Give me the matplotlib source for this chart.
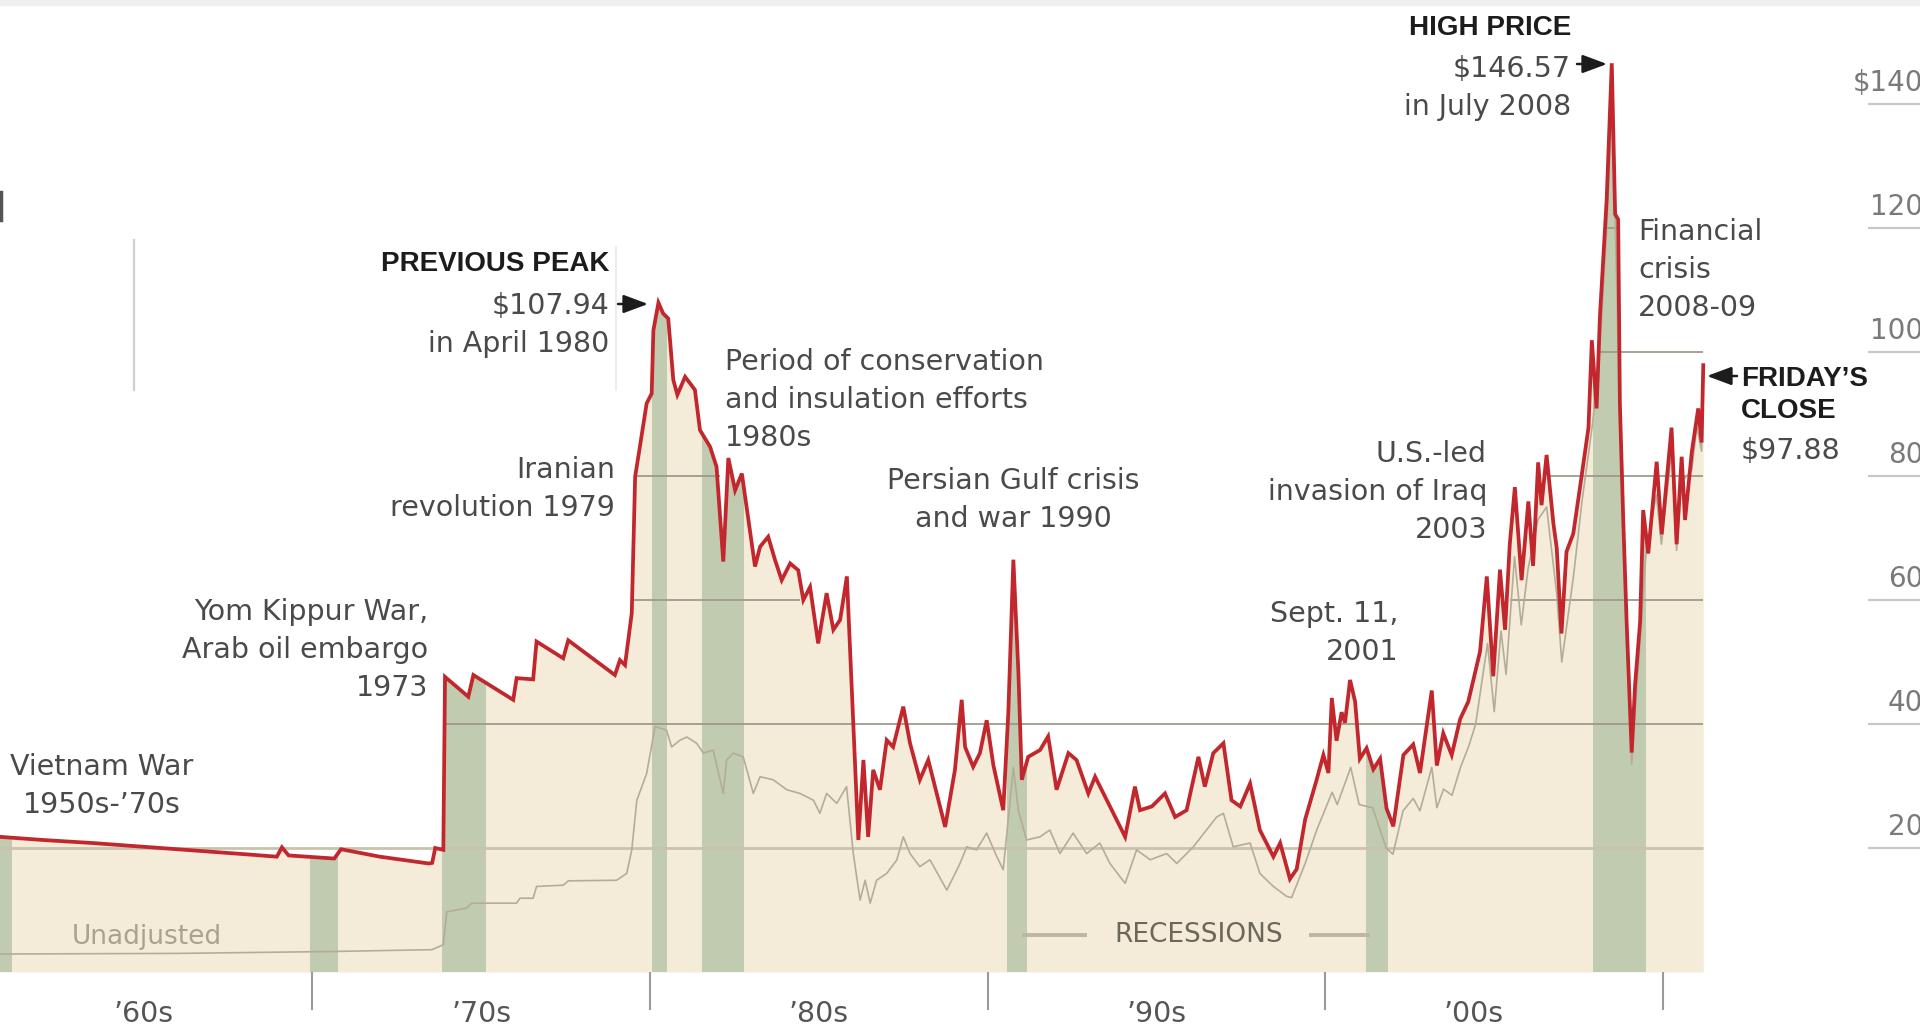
import matplotlib
matplotlib.use("Agg")
import matplotlib.pyplot as plt
from matplotlib.patches import Rectangle

# crude oil, dollars a barrel, adjusted for inflation (red line)
adj_years = [
    1960.75, 1962.0, 1963.5, 1965.0, 1966.5, 1968.0, 1968.95, 1969.1, 1969.3, 1970.65,
    1970.85, 1972.0, 1973.45, 1973.55, 1973.64, 1973.88, 1973.93, 1974.62, 1974.77, 1975.95,
    1976.05, 1976.54, 1976.64, 1977.43, 1977.58, 1978.96, 1979.11, 1979.26, 1979.46, 1979.56,
    1979.70, 1979.90, 1980.05, 1980.10, 1980.25, 1980.39, 1980.54, 1980.69, 1980.81, 1981.04,
    1981.33, 1981.48, 1981.78, 1981.97, 1982.17, 1982.32, 1982.52, 1982.72, 1982.86, 1983.11,
    1983.26, 1983.50, 1983.70, 1983.90, 1984.15, 1984.39, 1984.54, 1984.74, 1984.98, 1985.23,
    1985.43, 1985.63, 1985.83, 1985.92, 1986.02, 1986.17, 1986.32, 1986.46, 1986.61, 1986.81,
    1987.01, 1987.20, 1987.50, 1987.70, 1987.99, 1988.24, 1988.49, 1988.74, 1989.03, 1989.23,
    1989.33, 1989.57, 1989.77, 1989.97, 1990.17, 1990.46, 1990.61, 1990.76, 1990.91, 1991.01,
    1991.20, 1991.55, 1991.79, 1992.04, 1992.39, 1992.63, 1992.98, 1993.18, 1993.62, 1994.07,
    1994.36, 1994.51, 1994.86, 1995.25, 1995.55, 1995.89, 1996.24, 1996.43, 1996.68, 1996.98,
    1997.22, 1997.48, 1997.77, 1998.06, 1998.46, 1998.66, 1998.95, 1999.15, 1999.40, 1999.74,
    1999.94, 2000.09, 2000.19, 2000.33, 2000.48, 2000.58, 2000.73, 2000.88, 2001.02, 2001.22,
    2001.42, 2001.62, 2001.81, 2002.01, 2002.31, 2002.60, 2002.80, 2003.15, 2003.30, 2003.49,
    2003.74, 2003.99, 2004.23, 2004.43, 2004.58, 2004.78, 2004.97, 2005.17, 2005.32, 2005.46,
    2005.61, 2005.81, 2006.01, 2006.15, 2006.30, 2006.40, 2006.55, 2006.75, 2006.85, 2006.99,
    2007.14, 2007.34, 2007.54, 2007.69, 2007.79, 2007.89, 2008.03, 2008.13, 2008.33, 2008.48,
    2008.58, 2008.67, 2008.72, 2008.82, 2008.92, 2009.07, 2009.17, 2009.32, 2009.41, 2009.56,
    2009.81, 2009.96, 2010.25, 2010.40, 2010.55, 2010.65, 2010.85, 2011.04, 2011.14, 2011.19,
]
adj_price = [
    21.8, 21.3, 20.8, 20.2, 19.6, 19.0, 18.6, 20.1, 18.8, 18.3,
    19.8, 18.6, 17.5, 17.6, 20.0, 19.7, 47.6, 44.4, 47.9, 43.9,
    47.4, 47.2, 53.3, 50.6, 53.5, 47.9, 50.3, 49.5, 57.9, 79.9,
    84.7, 91.7, 93.3, 103.5, 107.94, 106.2, 105.4, 95.5, 93.1, 96.0,
    93.9, 87.4, 84.7, 81.5, 66.2, 82.9, 77.7, 80.4, 75.0, 65.4,
    68.6, 70.2, 66.5, 63.2, 65.9, 64.8, 60.0, 62.1, 53.0, 61.1,
    55.2, 56.8, 63.8, 52.5, 39.6, 21.3, 34.2, 21.8, 32.6, 29.4,
    37.4, 36.3, 42.8, 36.9, 31.0, 34.2, 28.8, 23.4, 32.6, 43.9,
    36.3, 33.1, 35.3, 40.6, 33.3, 26.1, 41.7, 66.5, 48.2, 31.0,
    34.7, 35.8, 38.0, 29.4, 35.3, 34.2, 28.8, 31.5, 26.7, 21.8,
    29.9, 26.1, 26.7, 28.8, 25.0, 26.1, 34.7, 29.9, 35.3, 36.9,
    27.7, 26.7, 30.4, 22.9, 18.6, 20.8, 15.0, 16.6, 24.6, 31.0,
    35.0, 32.1, 44.2, 37.3, 41.9, 40.2, 47.1, 43.6, 34.4, 36.1,
    32.7, 34.4, 26.4, 23.5, 35.0, 36.7, 32.1, 45.4, 33.3, 38.5,
    35.0, 40.8, 43.6, 48.2, 51.7, 63.8, 47.7, 64.9, 55.2, 69.0,
    78.2, 63.2, 75.9, 65.5, 82.2, 75.3, 83.4, 72.4, 68.4, 54.6,
    67.8, 70.7, 78.2, 84.0, 87.8, 101.9, 90.9, 105.8, 124.7, 146.57,
    122.2, 121.4, 91.7, 72.9, 56.5, 35.4, 46.3, 56.5, 74.5, 67.5,
    82.3, 70.6, 87.8, 69.0, 83.1, 72.9, 83.9, 90.9, 85.4, 97.88,
]

# unadjusted price (thin grey line)
raw_years = [
    1960.75, 1966.0, 1970.5, 1973.54, 1973.88, 1973.98, 1974.57, 1974.72, 1976.05, 1976.15,
    1976.54, 1976.64, 1977.43, 1977.58, 1979.01, 1979.31, 1979.46, 1979.61, 1979.90, 1980.15,
    1980.49, 1980.64, 1980.89, 1981.09, 1981.38, 1981.58, 1981.87, 1982.17, 1982.27, 1982.47,
    1982.76, 1983.06, 1983.26, 1983.65, 1984.05, 1984.44, 1984.84, 1985.03, 1985.23, 1985.53,
    1985.82, 1986.02, 1986.22, 1986.37, 1986.52, 1986.71, 1987.01, 1987.31, 1987.50, 1987.70,
    1987.99, 1988.29, 1988.79, 1989.18, 1989.38, 1989.67, 1989.97, 1990.27, 1990.46, 1990.76,
    1990.91, 1991.15, 1991.55, 1991.84, 1992.14, 1992.53, 1992.93, 1993.32, 1993.62, 1994.07,
    1994.41, 1994.81, 1995.30, 1995.60, 1996.09, 1996.48, 1996.78, 1996.98, 1997.27, 1997.77,
    1998.06, 1998.46, 1998.85, 1999.0, 1999.4, 1999.75, 2000.2, 2000.35, 2000.75, 2001.0,
    2001.4, 2001.8, 2002.0, 2002.3, 2002.6, 2002.8, 2003.15, 2003.3, 2003.5, 2003.75,
    2004.0, 2004.25, 2004.45, 2004.8, 2005.0, 2005.2, 2005.35, 2005.6, 2005.8, 2006.0,
    2006.3, 2006.55, 2006.85, 2007.0, 2007.35, 2007.6, 2007.9, 2008.1, 2008.33, 2008.48,
    2008.6, 2008.72, 2008.92, 2009.07, 2009.3, 2009.5, 2009.8, 2009.95, 2010.25, 2010.4,
    2010.55, 2010.85, 2011.0, 2011.14, 2011.19,
]
raw_price = [
    2.9, 3.0, 3.3, 3.6, 4.4, 9.7, 10.3, 11.1, 11.1, 11.9,
    11.9, 13.8, 14.0, 14.7, 14.8, 15.9, 19.7, 27.7, 32.0, 39.6,
    39.0, 36.3, 37.4, 37.9, 36.9, 35.3, 35.8, 28.8, 34.2, 35.3,
    34.7, 28.8, 31.5, 31.0, 29.4, 28.8, 27.7, 25.6, 28.8, 27.2,
    29.9, 19.1, 11.6, 14.8, 11.1, 14.8, 15.9, 18.1, 21.8, 19.1,
    17.0, 18.1, 13.2, 17.5, 20.2, 19.7, 22.4, 18.6, 16.5, 33.0,
    26.0, 21.3, 21.8, 22.9, 19.1, 22.4, 19.1, 20.8, 17.5, 14.3,
    19.7, 18.1, 19.1, 17.5, 20.2, 22.9, 25.0, 25.6, 20.2, 20.8,
    15.9, 13.8, 12.2, 12.0, 17.5, 23.0, 29.0, 27.0, 33.0, 27.0,
    26.5, 20.0, 19.0, 26.0, 28.0, 26.0, 33.0, 26.5, 29.5, 28.5,
    33.0, 36.5, 40.0, 53.0, 42.0, 55.0, 48.0, 67.0, 56.0, 65.0,
    73.0, 75.0, 61.0, 50.0, 64.0, 76.0, 88.0, 98.0, 120.0, 140.0,
    117.0, 88.0, 53.0, 33.5, 52.0, 68.0, 77.0, 69.0, 84.0, 68.0,
    79.0, 81.0, 88.0, 84.0, 96.0,
]

# recessions
rec_start = [1960.25, 1969.92, 1973.85, 1980.05, 1981.55, 1990.57, 2001.2, 2007.92]
rec_end = [1961.1, 1970.75, 1975.15, 1980.5, 1982.78, 1991.17, 2001.85, 2009.5]

# grid segments drawn inside the chart
grid_level = [20, 40, 60, 60, 80, 80, 100, 120]
grid_from = [1960.75, 1973.93, 1979.49, 2005.46, 1979.56, 2006.56, 2008.13, 2008.33]
grid_to = [2011.19, 2011.19, 1984.44, 2011.19, 1982.07, 2011.19, 2011.19, 2008.72]

axis_values = [140, 120, 100, 80, 60, 40, 20]
axis_labels = ["\\$140", "120", "100", "80", "60", "40", "20"]

decade_ticks = [1970, 1980, 1990, 2000, 2010]
decade_pos = [1965, 1975, 1985, 1995, 2004.4]
decade_labels = ["\u201960s", "\u201970s", "\u201980s", "\u201990s", "\u201900s"]

# ---- pixel geometry of the graphic ----
W, H = 1920, 1027
BASE = 972            # pixel row of $0
PX_YEAR = 33.77
PX_DOLLAR = 6.2
X0 = 1970 - 312.3 / PX_YEAR


def dx(px):
    return X0 + px / PX_YEAR


def dy(py):
    return (BASE - py) / PX_DOLLAR


RED = "#c1272d"
BEIGE = "#f4ecd9"
GREEN = "#c0cbb0"
TXT = "#4a4a4a"
DARK = "#1c1c1c"
REG = dict(family="DejaVu Sans", fontsize=20.5, color=TXT, linespacing=1.45)
BOLD = dict(family="Liberation Sans", fontweight="bold", fontsize=20, color=DARK, linespacing=1.3)

fig = plt.figure(figsize=(W / 100, H / 100), dpi=100)
fig.patches.append(Rectangle((0, 1 - 5 / H), 1, 5 / H, transform=fig.transFigure,
                             color="#efefef", zorder=0))
ax = fig.add_axes([0, 1 - BASE / H, 1, BASE / H])
ax.set_xlim(dx(0), dx(W))
ax.set_ylim(0, dy(0))
for s in ax.spines.values():
    s.set_visible(False)
ax.set_yticks([])

# area under the curve and recession bands clipped to it
area = ax.fill_between(adj_years, adj_price, 0, color=BEIGE, lw=0, zorder=1)
clip = area.get_paths()[0]
for a, b in zip(rec_start, rec_end):
    band = ax.axvspan(a, b, color=GREEN, lw=0, zorder=2)
    band.set_clip_path(clip, ax.transData)

for lev, a, b in zip(grid_level, grid_from, grid_to):
    if lev == 20:
        ax.hlines(lev, a, b, color="#c9c2ad", lw=2.0, zorder=3)
    else:
        ax.hlines(lev, a, b, color="#9e9a8c", lw=1.3, zorder=3)

ax.plot(raw_years, raw_price, color="#b3ad98", lw=1.2, zorder=4)
ax.plot(adj_years, adj_price, color=RED, lw=2.7, zorder=5, solid_joinstyle="miter")

# right-hand scale
for v, lab in zip(axis_values, axis_labels):
    ax.hlines(v, dx(1868), dx(1925), color="#c8c8c8", lw=1.6, clip_on=False)
    ax.text(dx(1923), v + 21 / PX_DOLLAR, lab, ha="right", va="center",
            family="DejaVu Sans", fontsize=20, color="#7a7a7a", clip_on=False)

# decade ticks
ax.set_xticks(decade_ticks)
ax.set_xticklabels([])
ax.set_xticks(decade_pos, decade_labels, minor=True)
ax.tick_params(axis="x", which="major", length=27, width=1.5, color="#9a9a9a", direction="out")
ax.tick_params(axis="x", which="minor", length=0, pad=20, labelsize=20.5, labelcolor="#555555")
for t in ax.get_xticklabels(minor=True):
    t.set_family("DejaVu Sans")

# notes: text, x px, y px (block centre), alignment
notes = [
    ("Vietnam War\n1950s-\u201970s", 102, 786, "center"),
    ("Yom Kippur War,\nArab oil embargo\n1973", 428, 650, "right"),
    ("\\$107.94\nin April 1980", 609, 325, "right"),
    ("Iranian\nrevolution 1979", 615, 489, "right"),
    ("Period of conservation\nand insulation efforts\n1980s", 725, 400, "left"),
    ("Persian Gulf crisis\nand war 1990", 1013, 500, "center"),
    ("U.S.-led\ninvasion of Iraq\n2003", 1487, 492, "right"),
    ("Sept. 11,\n2001", 1398, 633, "right"),
    ("\\$146.57\nin July 2008", 1571, 88, "right"),
    ("Financial\ncrisis\n2008-09", 1638, 270, "left"),
    ("\\$97.88", 1741, 451, "left"),
]
for s, x, y, ha in notes:
    ax.text(dx(x), dy(y), s, ha=ha, va="center", multialignment=ha, zorder=6,
            clip_on=False, **REG)

ax.text(dx(609), dy(264), "PREVIOUS PEAK", ha="right", va="center", **BOLD)
ax.text(dx(1571), dy(28), "HIGH PRICE", ha="right", va="center", clip_on=False, **BOLD)
ax.text(dx(1741), dy(395), "FRIDAY\u2019S\nCLOSE", ha="left", va="center", **BOLD)

ax.text(dx(147), dy(937), "Unadjusted", ha="center", va="center", family="DejaVu Sans",
        fontsize=19, color="#a9a38e", zorder=6)
ax.text(dx(1199), dy(935), "RECESSIONS", ha="center", va="center", family="DejaVu Sans",
        fontsize=19, color="#6b675a", zorder=6)
ax.hlines(dy(935), dx(1022), dx(1087), color="#bdb7a1", lw=2.8, zorder=6)
ax.hlines(dy(935), dx(1309), dx(1370), color="#bdb7a1", lw=2.8, zorder=6)

# pointers
arrow = dict(arrowstyle="-|>,head_length=0.75,head_width=0.28", color=DARK, lw=1.8,
             shrinkA=0, shrinkB=0, mutation_scale=20)
for tail, tip, y in [(618, 648, 304), (1577, 1607, 64), (1737, 1707, 376)]:
    ax.annotate("", xy=(dx(tip), dy(y)), xytext=(dx(tail), dy(y)), arrowprops=arrow,
                annotation_clip=False, zorder=7)

# leftover rules from the original page
ax.plot([dx(134), dx(134)], [dy(240), dy(390)], color="#d0d0d0", lw=1.6)
ax.plot([dx(616), dx(616)], [dy(247), dy(390)], color="#ececec", lw=1.4)
ax.plot([dx(1), dx(1)], [dy(192), dy(220)], color="#555555", lw=2.5, clip_on=False)

fig.savefig("out.png", dpi=100)
